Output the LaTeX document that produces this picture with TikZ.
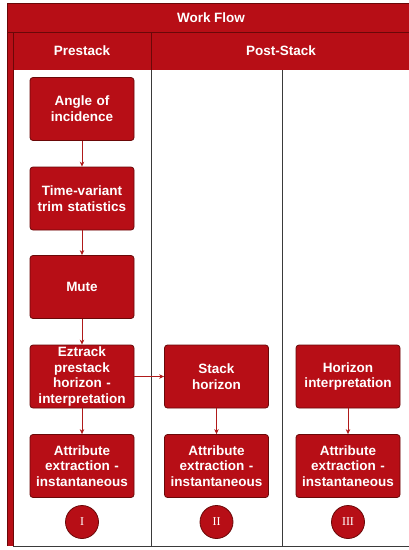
\documentclass[tikz,border=0pt]{standalone}
\usepackage{fontspec}
\setmainfont{Liberation Sans}
\newfontfamily\romanfont{Liberation Serif}
\usetikzlibrary{arrows.meta}
\definecolor{wfred}{HTML}{B70E16}
\definecolor{wfdark}{HTML}{6A0808}
\definecolor{wfline}{HTML}{3A3A3A}
\definecolor{wfarrow}{HTML}{B01A1A}
\begin{document}
\begin{tikzpicture}[x=1pt,y=1pt,
  stepbox/.style={draw=wfdark, line width=0.8pt, fill=wfred, rounded corners=3pt,
    minimum width=104pt, minimum height=63pt, text width=100pt, align=center,
    font=\fontsize{13.5}{15.8}\selectfont\bfseries, text=white, inner sep=0pt},
  flowarrow/.style={draw=wfarrow, line width=0.7pt, -{Stealth[length=5pt,width=4.5pt]}},
  numcirc/.style={circle, draw=wfdark, line width=0.8pt, fill=wfred, minimum size=33pt,
    inner sep=0pt, text=white, font=\romanfont\fontsize{12}{14}\selectfont},
  hdr/.style={text=white, font=\fontsize{13.5}{16}\selectfont\bfseries}]
\useasboundingbox (0,0) rectangle (409,-550);
\fill[white] (0,0) rectangle (409,-550);
% header band and left strip
\fill[wfred] (7,-3) rectangle (409,-70);
\fill[wfred] (7,-70) rectangle (13,-546);
\draw[wfdark, line width=0.8pt] (7,-546) -- (7,-3) -- (409,-3);
\draw[wfdark, line width=0.8pt] (7,-32) -- (409,-32);
\draw[wfdark, line width=0.8pt] (13,-32) -- (13,-546);
\draw[wfdark, line width=0.8pt] (151,-32) -- (151,-70);
% lane lines
\draw[wfline, line width=0.7pt] (151,-70) -- (151,-546);
\draw[wfline, line width=0.7pt] (282,-70) -- (282,-546);
\draw[wfline, line width=0.9pt] (13,-546) -- (409,-546);
% header texts
\node[hdr] (wf) at (211,-18) {Work Flow};
\node[hdr] (pre) at (82,-51) {Prestack};
\node[hdr] (post) at (281,-51) {Post-Stack};
% boxes
\node[stepbox] (a1) at (82,-109) {Angle of\\incidence};
\node[stepbox] (a2) at (82,-198.5) {Time-variant\\trim statistics};
\node[stepbox] (a3) at (82,-287) {Mute};
\node[stepbox] (a4) at (82,-376.5) {Eztrack\\prestack\\horizon -\\interpretation};
\node[stepbox] (a5) at (82,-466) {Attribute\\extraction -\\instantaneous};
\node[stepbox] (b1) at (216.5,-376.5) {Stack\\horizon};
\node[stepbox] (b2) at (216.5,-466) {Attribute\\extraction -\\instantaneous};
\node[stepbox] (c1) at (348,-376.5) {Horizon\\interpretation};
\node[stepbox] (c2) at (348,-466) {Attribute\\extraction -\\instantaneous};
% circles
\node[numcirc] (n1) at (82,-522) {I};
\node[numcirc] (n2) at (216.5,-522) {II};
\node[numcirc] (n3) at (348,-522) {III};
% arrows
\draw[flowarrow] (a1) -- (a2);
\draw[flowarrow] (a2) -- (a3);
\draw[flowarrow] (a3) -- (a4);
\draw[flowarrow] (a4) -- (a5);
\draw[flowarrow] (a4) -- (b1);
\draw[flowarrow] (b1) -- (b2);
\draw[flowarrow] (c1) -- (c2);
\end{tikzpicture}
\end{document}
